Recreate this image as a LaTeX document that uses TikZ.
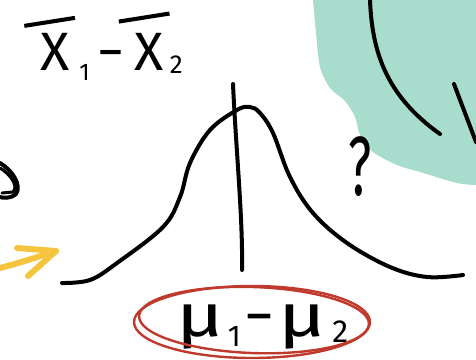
\documentclass[tikz,border=0pt]{standalone}
\usepackage{fontspec}
\setmainfont{Fira Sans}
\usetikzlibrary{arrows.meta,positioning}
\definecolor{blob}{HTML}{A8DCCD}
\definecolor{redink}{HTML}{C0392D}
\definecolor{hilite}{HTML}{F5C540}
\newcommand\lowsub[3]{\raisebox{-#1}{\fontsize{#2}{#2}\selectfont #3}}
\newcommand\barx[1]{\rlap{\hspace{-0.3em}\raisebox{#1}{\rotatebox{9}{\rule{0.95em}{0.075em}}}}X}
\newcommand\wideμ{\scalebox{1.35}[1]{μ}}
\tikzset{
  pen/.style={draw=black,line width=4pt,line cap=round,line join=round},
  redpen/.style={draw=redink,line width=2.4pt},
  yelpen/.style={draw=hilite,line width=6pt,line cap=round,line join=round},
  hand/.style={inner sep=0pt,font=\fontsize{54}{60}\selectfont},
}
\begin{document}
\begin{tikzpicture}[x=1pt,y=-1pt]
\useasboundingbox (0,0) rectangle (476,359);
\fill[blob] (313,0) plot[smooth] coordinates {(313,0) (316,33) (320,67) (330,88) (345,101) (355,117) (360,135) (373,152) (397,165) (420,172) (457,183) (476,185)} -- (476,0) -- cycle;
\draw[pen] (370,0) .. controls (372,50) and (385,95) .. (440,134);
\draw[pen] (454,84) -- (476,142);
\draw[pen] plot[smooth,tension=0.6] coordinates {(62,283) (90,280) (117,263) (163,227) (180,197) (190,163) (210,130) (237,110) (250,107) (260,113) (273,133) (290,177) (313,213) (347,243) (390,267) (427,277) (463,275)};
\draw[pen] (233,84) .. controls (236,150) and (243,220) .. (242,270);
\draw[pen] (0,163) .. controls (12,170) and (22,185) .. (16,194) .. controls (10,199) and (3,198) .. (0,197);
\draw[pen,line width=3pt] (0,168) .. controls (10,174) and (19,186) .. (13,192) -- (2,193);
\coordinate (tail) at (0,268);
\coordinate (tip) at (56,251);
\draw[yelpen] (tail) .. controls (22,262) .. (tip);
\draw[yelpen] (17,248) -- (tip) -- (28,276);
\node[hand,anchor=base west] (xdiff) at (40,70) {\barx{0.78em}\hspace{10pt}\lowsub{10pt}{24}{1}\hspace{8pt}−\hspace{10pt}\barx{0.86em}\hspace{6pt}\lowsub{3pt}{26}{2}};
\node[hand,anchor=center] (qmark) at (360,167) {\scalebox{0.6}[1]{\fontsize{84}{84}\selectfont ?}};
\node[hand,anchor=base west,font=\fontsize{60}{64}\selectfont] (mudiff) at (176,336) {\wideμ\hspace{4pt}\lowsub{10pt}{30}{1}\hspace{4pt}−\hspace{4pt}\wideμ\hspace{6pt}\lowsub{6pt}{32}{2}};
\draw[redpen] (252,322) ellipse [x radius=118,y radius=36];
\draw[redpen,rotate around={-2:(252,320)}] (254,320) ellipse [x radius=115,y radius=33];
\end{tikzpicture}
\end{document}
